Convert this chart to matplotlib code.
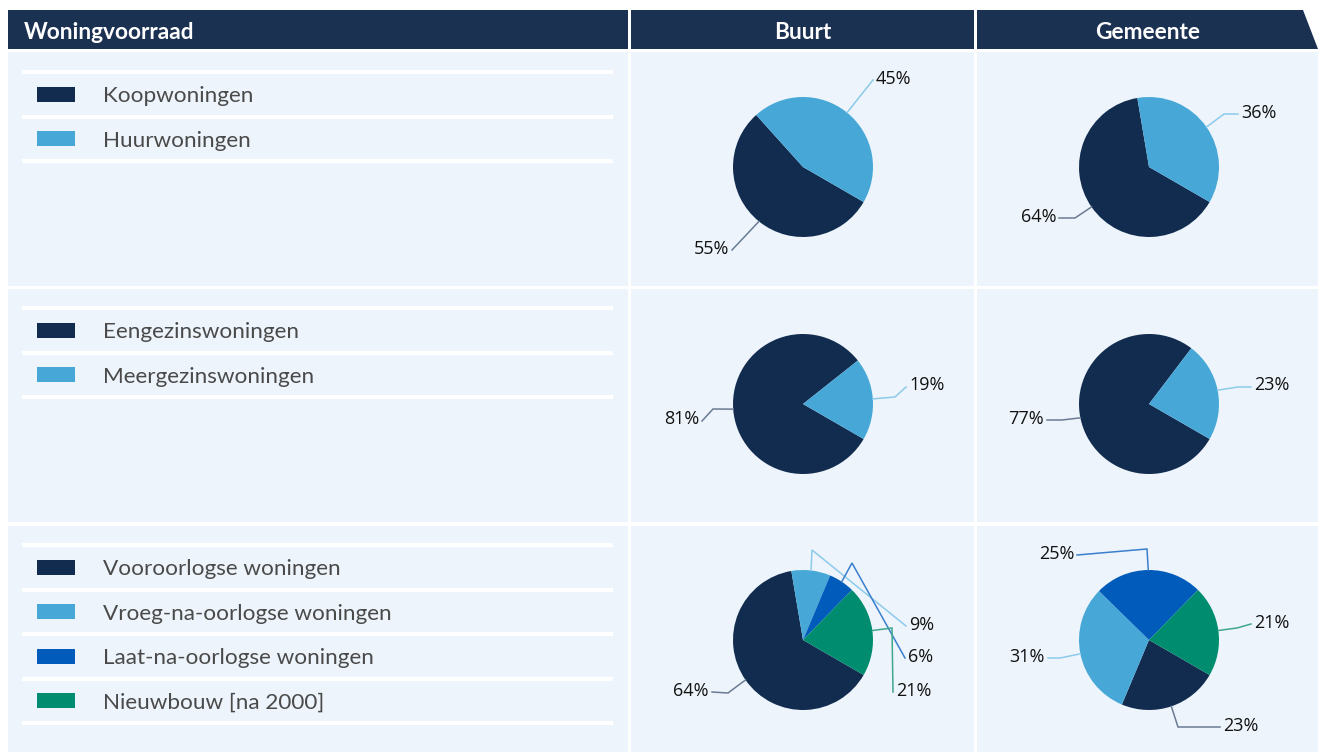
import numpy as np
import matplotlib
matplotlib.use("Agg")
import matplotlib.pyplot as plt
from matplotlib.patches import Rectangle, Polygon

# ---------------- data ----------------
header_title = "Woningvoorraad"
column_titles = ["Buurt", "Gemeente"]

cat_eigendom = ["Koopwoningen", "Huurwoningen"]
buurt_eigendom = [55, 45]
gemeente_eigendom = [64, 36]

cat_type = ["Eengezinswoningen", "Meergezinswoningen"]
buurt_type = [81, 19]
gemeente_type = [77, 23]

cat_bouwjaar = ["Vooroorlogse woningen", "Vroeg-na-oorlogse woningen",
                "Laat-na-oorlogse woningen", "Nieuwbouw [na 2000]"]
buurt_bouwjaar = [64, 9, 6, 21]
gemeente_bouwjaar = [23, 31, 25, 21]

# ---------------- style ----------------
NAVY_HDR = "#1b3152"
PANEL = "#edf4fb"
SLICE_COLORS = ["#122c50", "#47a8d8", "#005bbb", "#008c6e"]
LINE_COLORS = ["#6a7b93", "#8dcbea", "#3a7fcf", "#3fa88c"]
LEGEND_TXT = "#4a4a4a"

W, H = 1320, 754
fig = plt.figure(figsize=(W / 100, H / 100), dpi=100)
fig.patch.set_facecolor("white")
main = fig.add_axes([0, 0, 1, 1])
main.set_xlim(0, W)
main.set_ylim(H, 0)
main.axis("off")

# column / row geometry (pixels)
cols = [(8, 628), (631, 974), (977, 1318)]
rows = [(52, 286), (289, 522), (526, 752)]
hdr_top, hdr_bot = 10, 49

# header
main.add_patch(Rectangle((cols[0][0], hdr_top), cols[0][1] - cols[0][0], hdr_bot - hdr_top,
                         facecolor=NAVY_HDR, edgecolor="none"))
main.add_patch(Rectangle((cols[1][0], hdr_top), cols[1][1] - cols[1][0], hdr_bot - hdr_top,
                         facecolor=NAVY_HDR, edgecolor="none"))
main.add_patch(Polygon([(cols[2][0], hdr_top), (1303, hdr_top), (1318, hdr_bot), (cols[2][0], hdr_bot)],
                       closed=True, facecolor=NAVY_HDR, edgecolor="none"))
hdr_font = dict(family=["Lato", "DejaVu Sans"], fontsize=16.3, fontweight="bold", color="white", va="center")
hdr_y = (hdr_top + hdr_bot) / 2 + 3
main.text(24, hdr_y, header_title, ha="left", **hdr_font)
main.text(sum(cols[1]) / 2, hdr_y, column_titles[0], ha="center", **hdr_font)
main.text(sum(cols[2]) / 2, hdr_y, column_titles[1], ha="center", **hdr_font)

# panels
for (y0, y1) in rows:
    for (x0, x1) in cols:
        main.add_patch(Rectangle((x0, y0), x1 - x0, y1 - y0, facecolor=PANEL, edgecolor="none"))

# legends
row_cats = [cat_eigendom, cat_type, cat_bouwjaar]
first_line = [72, 308, 545]
step = 44.5
for r, cats in enumerate(row_cats):
    y0 = first_line[r]
    for i in range(len(cats) + 1):
        main.plot([22, 613], [y0 + i * step] * 2, color="white", lw=3, solid_capstyle="butt")
    for i, c in enumerate(cats):
        yc = y0 + (i + 0.5) * step
        main.add_patch(Rectangle((37, yc - 7.5), 38, 15, facecolor=SLICE_COLORS[i], edgecolor="none"))
        main.text(103, yc + 2, c, ha="left", va="center", fontsize=16.2, color=LEGEND_TXT,
                  family=["Lato", "DejaVu Sans"])

# pies
R = 70
S = 160
centers_x = [803, 1149]
centers_y = [167, 404, 640]
pie_data = [[buurt_eigendom, gemeente_eigendom],
            [buurt_type, gemeente_type],
            [buurt_bouwjaar, gemeente_bouwjaar]]

# label connector layout: (elbow, end) offsets from pie centre in pixels (x right, y down)
connectors = [
    [[((-71, 83), (-71, 83)), ((70, -87), (70, -87))],
     [((-74, 51), (-90, 51)), ((75, -53), (89, -53))]],
    [[((-90, 5), (-101, 17)), ((92, -7), (103, -17))],
     [((-87, 16), (-102, 16)), ((89, -17), (102, -17))]],
    [[((-75, 53), (-91, 52)), ((9, -90), (103, -14)), ((49, -77), (102, 18)), ((89, -12), (90, 52))],
     [((29, 87), (71, 87)), ((-89, 18), (-101, 18)), ((-2, -91), (-72, -85)), ((88, -12), (102, -16))]],
]

for r in range(3):
    for c in range(2):
        cx, cy = centers_x[c], centers_y[r]
        ax = fig.add_axes([(cx - S) / W, 1 - (cy + S) / H, 2 * S / W, 2 * S / H])
        vals = pie_data[r][c]
        wedges, _ = ax.pie(vals, colors=SLICE_COLORS[:len(vals)], startangle=-30,
                           counterclock=False, radius=R,
                           wedgeprops=dict(linewidth=0, antialiased=True))
        ax.set_xlim(-S, S)
        ax.set_ylim(-S, S)
        ax.set_aspect("equal")
        ax.axis("off")
        for i, (w, v) in enumerate(zip(wedges, vals)):
            mid = np.deg2rad((w.theta1 + w.theta2) / 2)
            ex, ey = R * np.cos(mid), R * np.sin(mid)
            (bx, by), (tx, ty) = connectors[r][c][i]
            ax.plot([ex, bx, tx], [ey, -by, -ty], color=LINE_COLORS[i], lw=1.1,
                    clip_on=False, solid_joinstyle="miter")
            lbl = dict(va="center", fontsize=13, color="#111111",
                       family=["Open Sans", "DejaVu Sans"], clip_on=False)
            if tx > 0:
                ax.text(tx + 3, -ty + 1.5, f"{v}%", ha="left", **lbl)
            else:
                ax.text(tx - 3, -ty + 1.5, f"{v}%", ha="right", **lbl)

fig.savefig("out.png", dpi=100, facecolor="white")
